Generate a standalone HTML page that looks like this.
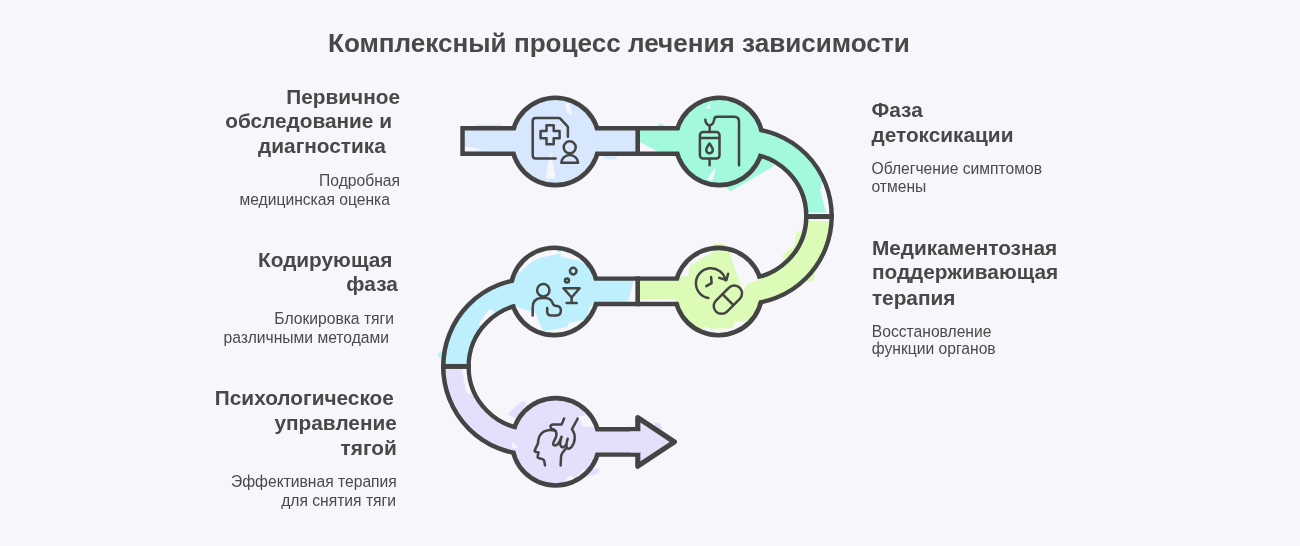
<!DOCTYPE html>
<html lang="ru"><head><meta charset="utf-8"><title>Комплексный процесс лечения зависимости</title>
<style>
html,body{margin:0;padding:0;background:#f6f6fb;}
body{width:1300px;height:546px;overflow:hidden;}
svg{display:block;will-change:transform}
text{font-family:"Liberation Sans",Arial,sans-serif;fill:#484848;}
.ti{font-size:26.1px;font-weight:bold;}
.h{font-size:20.8px;font-weight:bold;}
.d{font-size:15.65px;fill:#4a4a4a}
</style></head><body>
<svg width="1300" height="546" viewBox="0 0 1300 546">
<rect width="1300" height="546" fill="#f6f6fb"/>

<defs><mask id="om" maskUnits="userSpaceOnUse" x="0" y="0" width="1300" height="546"><rect width="1300" height="546" fill="white"/><path d="M464.8 141.0 L637.7 141.0" fill="none" stroke="black" stroke-width="21.0"/><circle cx="555.4" cy="141.4" r="41.4" fill="black"/><path d="M637.7 141.0 L743.85 141.0 A75.15 75.15 0 0 1 819.0 216.15" fill="none" stroke="black" stroke-width="21.0"/><circle cx="719.2" cy="141.4" r="41.4" fill="black"/><path d="M819.0 216.15 A75.15 75.15 0 0 1 743.85 291.3 L637.7 291.3" fill="none" stroke="black" stroke-width="21.0"/><circle cx="718.5" cy="291.6" r="41.4" fill="black"/><path d="M637.7 291.3 L531.15 291.3 A75.15 75.15 0 0 0 456.0 366.45000000000005" fill="none" stroke="black" stroke-width="21.0"/><circle cx="554.2" cy="291.4" r="41.4" fill="black"/><path d="M456.0 366.45000000000005 A75.15 75.15 0 0 0 531.15 441.9 L640 441.9" fill="none" stroke="black" stroke-width="21.0"/><circle cx="555.7" cy="441.8" r="41.4" fill="black"/><polygon points="640.40,422.45 669.70,441.90 640.40,461.35" fill="black"/><path d="M630 441.9 L645 441.9" fill="none" stroke="black" stroke-width="21.0"/></mask></defs>
<g fill="none">
<path d="M464.8 141.0 L637.7 141.0" stroke="#d6e7fe" stroke-width="23.0"/>
<circle cx="555.4" cy="141.4" r="42.4" fill="#d6e7fe"/>
<path d="M637.7 141.0 L743.85 141.0 A75.15 75.15 0 0 1 819.0 216.15" stroke="#a2f9de" stroke-width="23.0"/>
<circle cx="719.2" cy="141.4" r="42.4" fill="#a2f9de"/>
<path d="M819.0 216.15 A75.15 75.15 0 0 1 743.85 291.3 L637.7 291.3" stroke="#dcfbb6" stroke-width="23.0"/>
<circle cx="718.5" cy="291.6" r="42.4" fill="#dcfbb6"/>
<path d="M637.7 291.3 L531.15 291.3 A75.15 75.15 0 0 0 456.0 366.45000000000005" stroke="#bdeffd" stroke-width="23.0"/>
<circle cx="554.2" cy="291.4" r="42.4" fill="#bdeffd"/>
<path d="M456.0 366.45000000000005 A75.15 75.15 0 0 0 531.15 441.9 L640 441.9" stroke="#e5dffc" stroke-width="23.0"/>
<circle cx="555.7" cy="441.8" r="42.4" fill="#e5dffc"/>
<polygon points="637.8,417.59999999999997 674.4,441.9 637.8,466.2" fill="#e5dffc"/>
</g>
<g><polygon points="565.2,104.0 569.3,102.7 572.3,115.2 567.1,112.4" fill="#f6f6fb"/><polygon points="545.6,178.5 550.3,151.6 555.9,178.5" fill="#f6f6fb"/><polygon points="464.3,146.0 483.0,149.8 464.3,151.5" fill="#f6f6fb"/><polygon points="709.5,103.6 705.3,108.4 710.7,108.4" fill="#f6f6fb"/><polygon points="639.7,141.9 659.5,152.2 639.7,153.7" fill="#f6f6fb"/><polygon points="716.4,166.0 706.7,179.5 712.6,180.5" fill="#f6f6fb"/><polygon points="823.5,178.0 820.2,190.0 825.7,212.4 808.0,212.4 808.0,215.0 832.0,215.0 832.0,178.0" fill="#f6f6fb"/><polygon points="676.8,277.1 688.4,276.1 689.5,266.6 702.1,258.2 714.7,250.8 727.4,245.9 714.7,243.4 691.6,253.9 678.9,268.7" fill="#f6f6fb"/><polygon points="728.4,246.6 732.6,262.4 743.2,290.8 748.4,283.4 760.0,279.6 758.9,266.6 744.2,249.7" fill="#f6f6fb"/><polygon points="734.7,321.7 744.2,321.7 756.8,315.4 750.5,327.6 733.7,333.9 732.6,327.6" fill="#f6f6fb"/><polygon points="705.3,325.9 710.5,329.1 732.6,328.1 733.3,333.9 721.1,337.5 702.1,331.0" fill="#f6f6fb"/><polygon points="640.3,299.6 675.8,298.7 675.8,302.5 640.3,302.5" fill="#f6f6fb"/><polygon points="808.0,218.5 832.0,218.5 832.0,221.5 808.0,220.5" fill="#f6f6fb"/><polygon points="515.0,276.1 532.9,261.3 540.3,257.7 560.3,253.5 553.9,248.1 532.9,252.9 520.3,264.5" fill="#f6f6fb"/><polygon points="560.3,253.5 561.3,257.1 579.2,260.7 589.7,267.6 596.1,277.1 589.7,260.3 575.0,249.7 562.4,247.2" fill="#f6f6fb"/><polygon points="515.0,306.6 535.0,312.3 543.4,331.2 547.6,336.1 532.9,329.7 520.3,317.1" fill="#f6f6fb"/><polygon points="567.6,327.0 567.6,323.4 587.6,318.6 589.1,307.0 597.1,302.8 593.9,315.0 583.4,327.6 566.6,335.0 547.6,336.1 543.8,331.2" fill="#f6f6fb"/><polygon points="478.2,324.2 489.5,308.8 494.6,311.9 481.8,325.3" fill="#f6f6fb"/><polygon points="633.7,280.0 635.6,280.0 635.6,302.5 627.8,302.5" fill="#f6f6fb"/><polygon points="578.2,416.6 583.4,427.1 596.1,426.1 589.7,414.5" fill="#f6f6fb"/><polygon points="564.5,480.8 570.8,475.5 575.0,478.7 583.4,469.2 587.6,471.3 579.2,481.8" fill="#f6f6fb"/><polygon points="511.4,441.4 518.6,448.2 512.9,448.2" fill="#f6f6fb"/><polygon points="462.0,369.0 467.5,369.0 471.0,395.0 466.0,392.0" fill="#f6f6fb"/></g>
<g><polygon points="473.7,127.4 477.4,124.6 501.7,124.6 503.6,127.4" fill="#d6e7fe"/><polygon points="602.6,155.4 617.5,155.4 616.0,159.5 604.0,158.7" fill="#d6e7fe"/><polygon points="654.4,127.3 660.8,123.5 667.2,127.3" fill="#a2f9de"/><polygon points="723.6,185.0 730.5,191.2 774.9,165.5 768.5,159.4 759.5,155.5 755.6,169.6 740.3,181.2" fill="#a2f9de"/><polygon points="735.1,105.0 742.8,103.5 759.5,120.9 762.1,129.9 756.9,127.3" fill="#a2f9de"/><polygon points="796.7,231.9 804.9,230.1 805.4,238.3 786.4,260.1 781.3,256.3 794.1,246.0" fill="#dcfbb6"/><polygon points="809.5,274.2 815.1,272.2 813.6,281.4 806.9,281.9" fill="#dcfbb6"/><polygon points="713.3,243.5 725.4,244.0 725.4,247.3 713.3,247.3" fill="#dcfbb6"/><polygon points="437.2,353.5 442.8,350.9 442.8,357.6 439.0,357.6" fill="#bdeffd"/><polygon points="507.6,414.5 516.1,406.1 522.4,400.8 526.6,402.9 516.1,418.7" fill="#e5dffc"/><polygon points="587.6,469.2 600.3,468.2 598.2,473.4 583.4,477.6" fill="#e5dffc"/><polygon points="654.4,422.2 660.8,423.7 662.1,429.4 655.6,428.1" fill="#e5dffc"/></g>
<g mask="url(#om)" fill="none">
<path d="M460.3 141.0 L743.85 141.0 A75.15 75.15 0 0 1 743.85 291.3 L531.15 291.3 A75.15 75.15 0 0 0 531.15 441.9 L640 441.9" stroke="#444444" stroke-width="29.8"/>
<circle cx="555.4" cy="141.4" r="46.0" fill="#444444"/>
<circle cx="719.2" cy="141.4" r="46.0" fill="#444444"/>
<circle cx="718.5" cy="291.6" r="46.0" fill="#444444"/>
<circle cx="554.2" cy="291.4" r="46.0" fill="#444444"/>
<circle cx="555.7" cy="441.8" r="46.0" fill="#444444"/>
<polygon points="637.8,417.59999999999997 674.4,441.9 637.8,466.2" fill="#444444" stroke="#444444" stroke-width="5.2" stroke-linejoin="round"/>
</g>
<g fill="none">
<path d="M637.7 126.1 L637.7 155.9" stroke="#444444" stroke-width="4.6"/>
<path d="M637.7 276.40000000000003 L637.7 306.2" stroke="#444444" stroke-width="4.6"/>
<path d="M804.10 216.55 L833.90 216.55" stroke="#444444" stroke-width="5"/>
<path d="M441.1 366.45000000000005 L470.9 366.45000000000005" stroke="#444444" stroke-width="5"/>
</g>
<g fill="none" stroke="#444444" stroke-width="2.5" stroke-linecap="round" stroke-linejoin="round">
<!-- icon 1: medical record + person -->
<path d="M567.9 136.7 V127.6 Q567.9 126.8 567.3 126.2 L560.3 118.6 Q559.7 118 558.9 118 H535.7 Q532.7 118 532.7 121 V155.4 Q532.7 158.4 535.7 158.4 H555.6"/>
<path d="M546.5 125.3 H553.7 V131.1 H559.6 V138.3 H553.7 V144.2 H546.5 V138.3 H540.6 V131.1 H546.5 Z"/>
<circle cx="569.7" cy="147.3" r="6"/>
<path d="M561.3 162.7 A8.4 7.6 0 0 1 578.1 162.7 Z"/>
<!-- icon 2: IV drip -->
<rect x="699.9" y="131.9" width="19.6" height="26.6" rx="3.2"/>
<path d="M700.2 137.9 H719.2"/>
<path d="M709.6 159.2 V165.2"/>
<path d="M709.7 131.2 V125.8"/>
<path d="M705.3 119.7 Q705.6 124.6 709.7 125.6 Q713.4 124.6 714.1 119.9 Q714.3 116.8 717 116.8 H734.4 Q739 116.8 739 121.6 V165.2"/>
<path d="M709.5 143.6 Q706.2 148.2 706.2 150 A3.3 3.3 0 0 0 712.8 150 Q712.8 148.2 709.5 143.6 Z"/>
<!-- icon 3: clock + pill -->
<path d="M708.4 298.1 A15 15 0 1 1 725.6 280.2"/>
<path d="M719.2 277.9 L726.5 280 L728.1 273.8"/>
<path d="M711.1 277 L711.6 283.2 L706.3 286.1"/>
<g transform="translate(727.9 299.7) rotate(-45)"><rect x="-16.8" y="-7.8" width="33.6" height="15.6" rx="7.8"/><path d="M0 -7.8 V7.8"/></g>
<!-- icon 4: person + cocktail -->
<circle cx="543.3" cy="290.2" r="6.2"/>
<path d="M532.7 315.4 V307.6 Q532.7 298.4 541.6 298.1 H545.2 Q550.6 298.2 552.6 303 Q553.6 306.2 556.6 306 Q560.6 306 560.9 310.4 Q560.8 315.4 556.2 315.4 H551.3 Q547.3 315.4 547.2 311.6 V308"/>
<path d="M563.4 288.2 H579.6 L571.6 297.5 Z"/>
<path d="M571.6 297.5 V303.1 M566.7 303.1 H576.7"/>
<circle cx="567" cy="280.6" r="2"/>
<circle cx="573.2" cy="271.1" r="3.3"/>
<!-- icon 5: head + hand -->
<path d="M555.6 430.9 Q551 429.6 548 430.3 Q543.6 431 541.5 433.4 Q539 436 538.6 438.7 Q538 441 538 443.4 L534.6 450.6 Q534.4 451.4 535.2 451.7 L538.6 452.5 L537.6 456.4 Q537.4 457.6 538.6 458 L543 459.4 Q544 459.8 544.2 460.8 L545 465.4"/>
<path d="M564.1 418.5 L561.6 424.6 H553.4 Q550.6 424.8 550.5 426.4 Q550.5 428.2 552.4 428.9 Q555.6 429.8 556.4 433 Q557 436 554.4 440.4 Q552.6 443.8 553.4 444.9 Q555 446.4 557.4 444.6 Q559.8 442 561.6 436.7 Q559.8 442.6 560.4 445 Q561 447.4 563.2 447.3 Q565.4 446.6 566.4 443.6 L567.7 438.7 Q566 444.6 566.6 447 Q567.4 449.2 569.4 448.6 Q572 447.4 573.6 443.6 Q575.2 439.6 574.6 435 Q574 431.4 571.9 429.3 L577.7 418.5"/>
<path d="M565.7 448.8 Q561.4 453.4 561.1 456 L560.6 465.4"/>
</g>

<text x="328.0" y="52.0" class="ti" text-anchor="start">Комплексный процесс лечения зависимости</text>
<text x="400.0" y="104.0" class="h" text-anchor="end">Первичное</text>
<text x="392.0" y="128.4" class="h" text-anchor="end">обследование и</text>
<text x="385.8" y="152.7" class="h" text-anchor="end">диагностика</text>
<text x="400.0" y="185.6" class="d" text-anchor="end">Подробная</text>
<text x="390.0" y="204.6" class="d" text-anchor="end">медицинская оценка</text>
<text x="392.4" y="266.8" class="h" text-anchor="end">Кодирующая</text>
<text x="397.8" y="291.4" class="h" text-anchor="end">фаза</text>
<text x="394.0" y="324.0" class="d" text-anchor="end">Блокировка тяги</text>
<text x="389.0" y="343.0" class="d" text-anchor="end">различными методами</text>
<text x="393.8" y="405.4" class="h" text-anchor="end">Психологическое</text>
<text x="396.8" y="430.4" class="h" text-anchor="end">управление</text>
<text x="396.8" y="454.9" class="h" text-anchor="end">тягой</text>
<text x="396.8" y="487.0" class="d" text-anchor="end">Эффективная терапия</text>
<text x="396.0" y="505.6" class="d" text-anchor="end">для снятия тяги</text>
<text x="871.5" y="116.6" class="h" text-anchor="start">Фаза</text>
<text x="871.5" y="141.9" class="h" text-anchor="start">детоксикации</text>
<text x="871.5" y="174.4" class="d" text-anchor="start">Облегчение симптомов</text>
<text x="871.5" y="191.6" class="d" text-anchor="start">отмены</text>
<text x="871.9" y="254.8" class="h" text-anchor="start">Медикаментозная</text>
<text x="871.9" y="279.4" class="h" text-anchor="start">поддерживающая</text>
<text x="871.9" y="305.0" class="h" text-anchor="start">терапия</text>
<text x="871.8" y="336.6" class="d" text-anchor="start">Восстановление</text>
<text x="871.8" y="354.1" class="d" text-anchor="start">функции органов</text>
</svg>
</body></html>
